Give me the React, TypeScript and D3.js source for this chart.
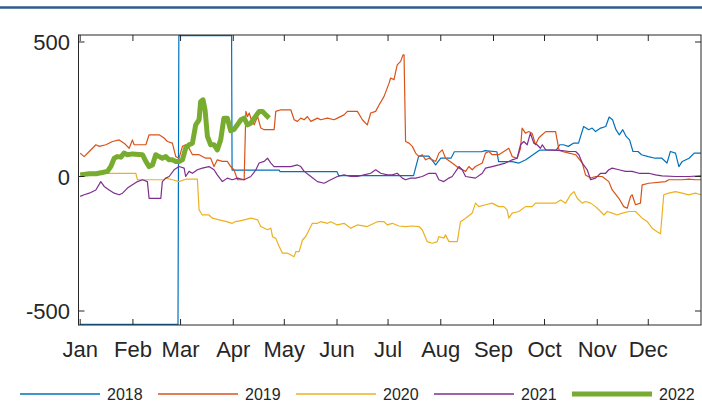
import React, { useEffect, useRef } from 'react';
import * as d3 from 'd3';

// day-of-year, value
const s2018: [number, number][] = [
  [0, -550], [57.5, -550], [58, 524], [89, 524], [89.3, 24], [117, 24], [117.5, 18], [151, 18], [152, 3], [196, 3],
  [199, 76], [205, 76], [209, 43], [212, 68], [218, 68], [220, 92], [236, 92], [238, 96], [245, 92], [246, 55],
  [254, 55], [258, 50], [262, 62], [270, 98], [280, 99], [282, 118], [284, 118], [287, 112], [290, 124], [293, 124],
  [296, 186], [299, 174], [301, 180], [303, 167], [306, 180], [309, 186], [311, 221], [313, 211], [315, 174],
  [317, 155], [319, 174], [321, 149], [323, 136], [325, 93], [328, 93], [330, 81], [334, 74], [338, 68], [342, 68],
  [345, 50], [347, 93], [350, 87], [352, 37], [354, 56], [358, 68], [361, 87], [365, 87],
];

const s2019: [number, number][] = [
  [0, 87], [2.3, 74], [5.3, 93], [7.2, 105], [9.2, 118], [11.2, 112], [15.1, 118], [19, 130], [22.9, 136], [25.8, 124],
  [28.8, 105], [30.7, 136], [31.7, 118], [38.6, 118], [40.5, 155], [46.4, 155], [49.3, 143], [51.3, 130], [54.2, 124],
  [56.2, 74], [58.1, 68], [60.1, 112], [62, 118], [64, 105], [66, 81], [69.9, 81], [73.8, 68], [76.7, 68], [78.7, 37],
  [80.6, 62], [83.6, 56], [86.5, 56], [88.5, 37], [90.4, 25], [92.5, -12], [96.4, -12], [97.4, 242], [98.4, 223],
  [99.4, 236], [100.3, 217], [102.3, 192], [104.3, 223], [106.2, 180], [108.2, 174], [114, 174], [115, 242], [118, 248],
  [123.8, 248], [125.8, 211], [127.7, 205], [129.7, 217], [131.7, 211], [133.6, 223], [135.6, 205], [139.5, 217],
  [141.4, 211], [145.4, 217], [149.3, 211], [151.2, 217], [155.1, 229], [157.1, 242], [163, 242], [165.9, 211],
  [168.8, 192], [170.8, 236], [173.7, 242], [175.7, 266], [178.6, 297], [181.6, 347], [182.5, 366], [184.5, 360],
  [185.5, 390], [186.4, 415], [188.4, 428], [189.8, 452], [190.4, 452], [191.3, 130], [193.3, 124], [195.3, 112],
  [197.2, 87], [199.2, 74], [201.1, 81], [203.1, 62], [205, 68], [207, 62], [209, 56], [210.9, 87], [212.9, 99],
  [214.8, 68], [218.7, 50], [222.7, 31], [226.6, 19], [228.5, 37], [230.5, 25], [232.4, 37], [236.4, 50], [238.3, 87],
  [240.3, 93], [242.2, 81], [246.1, 81], [249.1, 93], [252, 105], [254, 74], [256.9, 68], [258.9, 105], [259.8, 180],
  [261.8, 161], [263.7, 167], [265.7, 161], [267.7, 118], [269.6, 143], [271.6, 155], [273.7, 167], [279.5, 167],
  [281.5, 99], [283.4, 93], [287.4, 87], [291.3, 81], [295.2, 50], [297.1, 6], [300.1, -6], [303, 0], [306.9, 0],
  [310.8, -19], [312.8, -50], [316.7, -81], [319.6, -112], [321.6, -118], [323.6, -74], [324.5, -68], [326.5, -105],
  [329.4, -99], [330.4, -31], [334.3, -25], [344.1, -19], [346, -12], [353.9, -12], [357.8, -10], [361.7, -12], [365, -12],
];

const s2020: [number, number][] = [
  [0, 12], [32.7, 12], [33.7, -12], [49.3, -12], [50.3, -6], [54.2, -12], [58.1, -19], [62, -10], [68.9, -10],
  [69.9, -124], [71.8, -143], [75.7, -143], [77.7, -155], [81.6, -161], [85.5, -167], [89.4, -174], [91.4, -167],
  [92.5, -167], [96.4, -161], [100.3, -155], [104.3, -161], [106.2, -186], [110.1, -198], [112.1, -192], [113.1, -224],
  [115, -230], [117, -260], [118.9, -285], [121.9, -285], [125.8, -298], [126.8, -279], [128.7, -279], [130.7, -236],
  [132.6, -223], [134.6, -198], [136.5, -174], [139.5, -174], [141.4, -168], [145.4, -174], [147.3, -168], [151.2, -180],
  [155.1, -174], [159.1, -192], [163, -180], [168.8, -186], [174.7, -168], [178.6, -168], [180.6, -180], [183.5, -174],
  [187.4, -184], [191.3, -186], [195.3, -184], [199.2, -186], [201.1, -198], [204, -242], [207, -248], [209.9, -242],
  [210.9, -223], [213.8, -229], [214.8, -217], [216.8, -242], [221.7, -242], [223.6, -168], [226.6, -155], [230.5, -136],
  [232.4, -99], [234.4, -112], [238.3, -105], [242.2, -99], [246.1, -112], [249.1, -112], [251, -124], [252, -155],
  [254, -136], [257.9, -130], [261.8, -112], [265.7, -112], [267.7, -99], [273.5, -99], [279.5, -99], [282.5, -87],
  [285.4, -99], [288.3, -68], [290.3, -56], [292.2, -81], [295.2, -99], [297.1, -93], [300.1, -99], [303, -112],
  [306, -130], [307.9, -143], [309.9, -130], [312.8, -136], [315.7, -143], [318.7, -136], [322.6, -130], [326.5, -130],
  [330.4, -155], [333.3, -167], [336.3, -192], [339.2, -205], [341.2, -213], [343.1, -68], [346, -62], [350, -56],
  [353.9, -62], [357.8, -68], [361.7, -62], [365, -68],
];

const s2021: [number, number][] = [
  [0, -74], [2.3, -68], [5.3, -62], [9.2, -50], [12.1, -19], [14.1, -37], [17, -50], [20, -62], [22.9, -68], [24.9, -62],
  [27.8, -43], [30.7, -31], [33.7, -19], [36.6, -12], [39.5, -19], [40.5, -81], [47.4, -81], [48.3, -19], [50.3, -6],
  [52.3, 0], [55.2, 25], [58.1, 37], [61.1, 31], [62, 0], [64, 19], [66, 12], [68.9, 25], [71.8, 31], [75.7, 37],
  [78.7, 25], [80.6, 6], [83.6, -19], [86.5, -6], [89.4, -12], [92.5, -6], [96.4, -12], [100.3, 0], [103.3, 25],
  [105.2, 50], [108.2, 56], [110.1, 68], [112.1, 50], [114, 37], [123.8, 37], [127.7, 43], [129.7, 37], [131.7, 19],
  [135.6, 0], [139.5, -19], [143.4, -25], [147.3, -12], [151.2, 0], [155.1, 6], [159.1, 0], [163, 0], [166.9, 6],
  [170.8, 12], [173.7, 25], [176.7, 12], [180.6, 6], [183.5, 6], [186.4, 12], [189.4, -6], [191.3, -12], [194.3, -6],
  [197.2, -6], [201.1, 0], [205, 12], [209, 12], [210.9, -12], [213.8, -19], [216.8, -6], [218.7, 0], [222.7, 37],
  [224.6, 25], [226.6, 0], [232.4, -6], [236.4, 12], [238.3, 31], [242.2, 37], [246.1, 43], [250, 50], [254, 62],
  [256.9, 68], [258.9, 118], [260.8, 130], [262.8, 118], [264.7, 161], [266.7, 124], [268.6, 118], [270.6, 105],
  [271.7, 118], [273.7, 99], [283.4, 96], [287.4, 93], [291.3, 93], [293.2, 81], [295.2, 50], [298.1, 25], [300.1, -12],
  [303, -6], [306, 12], [308.9, 12], [310.8, 25], [312.8, 31], [316.7, 25], [320.6, 19], [324.5, 19], [328.5, 12],
  [334.3, 12], [338.2, 6], [342.1, 2], [350, 0], [357.8, 0], [365, 2],
];

const s2022: [number, number][] = [
  [0, 6], [5.3, 10], [9.2, 10], [13.1, 15], [16, 19], [18, 37], [20, 68], [21.9, 74], [23.9, 72], [25.8, 87],
  [27.8, 81], [30.7, 84], [36.6, 81], [38.6, 56], [40.5, 37], [42.5, 43], [44.4, 81], [46.4, 74], [48.3, 68],
  [50.3, 74], [52.3, 62], [54.2, 62], [56.2, 56], [58.1, 56], [60.1, 62], [62, 105], [64, 118], [66, 124], [67.9, 192],
  [69.9, 211], [70.8, 278], [72.2, 285], [73.4, 248], [74.8, 149], [76.7, 118], [78.7, 118], [80.6, 99], [82.6, 136],
  [84.5, 217], [86.5, 217], [88.5, 170], [90.4, 175], [92.4, 192], [94.5, 211], [96.4, 217], [98.4, 192], [100.3, 198],
  [102.3, 217], [105.2, 242], [107.2, 242], [109.1, 229], [111.1, 217],
];

const series = [
  { name: '2018', data: s2018, color: '#0072BD', width: 1.2 },
  { name: '2019', data: s2019, color: '#D95319', width: 1.2 },
  { name: '2020', data: s2020, color: '#EDB120', width: 1.2 },
  { name: '2021', data: s2021, color: '#7E2F8E', width: 1.2 },
  { name: '2022', data: s2022, color: '#77AC30', width: 5 },
];

const monthLabels = ['Jan', 'Feb', 'Mar', 'Apr', 'May', 'Jun', 'Jul', 'Aug', 'Sep', 'Oct', 'Nov', 'Dec'];
const monthStarts = [0, 31, 59, 90, 120, 151, 181, 212, 243, 273, 304, 334];
const yTicks = [-500, 0, 500];

const FONT = '"Liberation Sans", Arial, Helvetica, sans-serif';
const INK = '#262626';

const App = () => {
  const svgRef = useRef<SVGSVGElement | null>(null);

  useEffect(() => {
    document.body.style.margin = '0';
    const svg = d3.select(svgRef.current);
    svg.selectAll('*').remove();

    const left = 78.5, right = 701, top = 35, bottom = 325;
    const x = d3.scaleLinear().domain([-1, 365]).range([left, right]);
    const y = d3.scaleLinear().domain([-552, 526]).range([bottom, top]);

    // top rule
    svg.append('line').attr('x1', 0).attr('x2', 702).attr('y1', 7.5).attr('y2', 7.5)
      .attr('stroke', '#2f5b8e').attr('stroke-width', 2.5);

    const line = d3.line<[number, number]>().x((d) => x(d[0])).y((d) => y(d[1]));

    series.forEach((s) => {
      svg.append('path').datum(s.data).attr('fill', 'none').attr('stroke', s.color)
        .attr('stroke-width', s.width).attr('stroke-linejoin', 'round').attr('d', line);
    });

    // axes box
    svg.append('rect').attr('x', left).attr('y', top).attr('width', right - left).attr('height', bottom - top)
      .attr('fill', 'none').attr('stroke', INK).attr('stroke-width', 1);

    const tickLen = 6;
    monthStarts.forEach((m, i) => {
      const xp = x(m);
      svg.append('line').attr('x1', xp).attr('x2', xp).attr('y1', bottom).attr('y2', bottom - tickLen).attr('stroke', INK);
      svg.append('line').attr('x1', xp).attr('x2', xp).attr('y1', top).attr('y2', top + tickLen).attr('stroke', INK);
      svg.append('text').attr('x', xp).attr('y', 357).attr('text-anchor', 'middle')
        .style('font-family', FONT).style('font-size', '22px').attr('fill', INK).text(monthLabels[i]);
    });

    yTicks.forEach((t) => {
      const yp = y(t);
      svg.append('line').attr('x1', left).attr('x2', left + tickLen).attr('y1', yp).attr('y2', yp).attr('stroke', INK);
      svg.append('line').attr('x1', right).attr('x2', right - tickLen).attr('y1', yp).attr('y2', yp).attr('stroke', INK);
      svg.append('text').attr('x', 70).attr('y', yp + 8).attr('text-anchor', 'end')
        .style('font-family', FONT).style('font-size', '22px').attr('fill', INK).text(String(t));
    });

    // legend
    series.forEach((s, i) => {
      const lx = 20 + i * 138;
      svg.append('line').attr('x1', lx).attr('x2', lx + 80).attr('y1', 394).attr('y2', 394)
        .attr('stroke', s.color).attr('stroke-width', s.width === 5 ? 5 : 1.5);
      svg.append('text').attr('x', lx + 87).attr('y', 400)
        .style('font-family', FONT).style('font-size', '16px').attr('fill', INK).text(s.name);
    });
  }, []);

  return <svg ref={svgRef} width={702} height={403} style={{ display: 'block', background: '#fff' }} />;
};

export default App;
